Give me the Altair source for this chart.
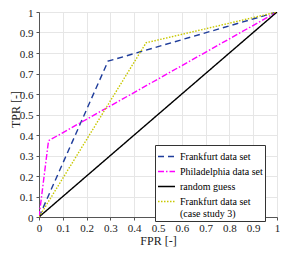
import altair as alt
import pandas as pd

series_names = ["Frankfurt data set", "Philadelphia data set", "random guess",
                "Frankfurt data set (case study 3)"]
fpr_frankfurt = [0.0, 0.29, 1.0]
tpr_frankfurt = [0.0, 0.76, 1.0]
fpr_phila = [0.0, 0.04, 1.0]
tpr_phila = [0.0, 0.372, 1.0]
fpr_random = [0.0, 1.0]
tpr_random = [0.0, 1.0]
fpr_case3 = [0.0, 0.45, 1.0]
tpr_case3 = [0.0, 0.85, 1.0]
ticks = [0, 0.1, 0.2, 0.3, 0.4, 0.5, 0.6, 0.7, 0.8, 0.9, 1]

rows = []
for name, xs, ys in zip(series_names,
                        [fpr_frankfurt, fpr_phila, fpr_random, fpr_case3],
                        [tpr_frankfurt, tpr_phila, tpr_random, tpr_case3]):
    for i, (x, y) in enumerate(zip(xs, ys)):
        rows.append({"series": name, "fpr": x, "tpr": y, "order": i})
df = pd.DataFrame(rows)

colors = ["#1f3d9b", "#ff00ff", "#000000", "#c8c800"]
dashes = [[6, 4], [6, 2, 1.5, 2], [1, 0], [1.5, 1.5]]

font = "Liberation Serif"
label_expr = "datum.value == 0 ? '0' : datum.value == 1 ? '1' : format(datum.value, '.1f')"
legend_expr = ("datum.label == 'Frankfurt data set (case study 3)' ? "
               "['Frankfurt data set', '(case study 3)'] : datum.label")

chart = alt.Chart(df).mark_line(strokeWidth=1.4, clip=True).encode(
    x=alt.X("fpr:Q", title="FPR [-]",
            scale=alt.Scale(domain=[0, 1], nice=False),
            axis=alt.Axis(values=ticks, labelFlush=False, labelExpr=label_expr,
                          titlePadding=2)),
    y=alt.Y("tpr:Q", title="TPR [-]",
            scale=alt.Scale(domain=[0, 1], nice=False),
            axis=alt.Axis(values=ticks, labelExpr=label_expr, labelPadding=3,
                          labelOffset=1,
                          titleX=-24, titleY=97, titleAngle=-90,
                          titleAlign="center", titleBaseline="middle")),
    color=alt.Color("series:N", scale=alt.Scale(domain=series_names, range=colors),
                    legend=alt.Legend(title=None, orient="none", legendX=116, legendY=133,
                                      symbolType="stroke", symbolSize=289,
                                      symbolStrokeWidth=1.4,
                                      labelExpr=legend_expr,
                                      strokeColor="#333333", fillColor="white",
                                      padding=2, rowPadding=0,
                                      labelFont=font, labelFontSize=10,
                                      labelOffset=4,
                                      labelColor="black", labelLimit=200)),
    strokeDash=alt.StrokeDash("series:N",
                              scale=alt.Scale(domain=series_names, range=dashes),
                              legend=None),
    order="order:Q",
).properties(
    width=238, height=205,
    autosize=alt.AutoSizeParams(type="none"),
    padding={"left": 31, "top": 4, "right": 14, "bottom": 40},
).configure(
    font=font
).configure_view(
    stroke="#555555", strokeWidth=1
).configure_legend(
    labelFont=font, labelFontSize=10, labelColor="black"
).configure_axis(
    labelFont=font, titleFont=font, labelFontSize=11, titleFontSize=12,
    labelColor="#222222", titleColor="#222222", titleFontWeight="normal",
    gridColor="#e6e6e6", grid=True, domainColor="#555555",
    tickColor="#555555", tickSize=3, labelPadding=2,
)

chart.save("out.html", embed_options={"renderer": "svg", "actions": False})
